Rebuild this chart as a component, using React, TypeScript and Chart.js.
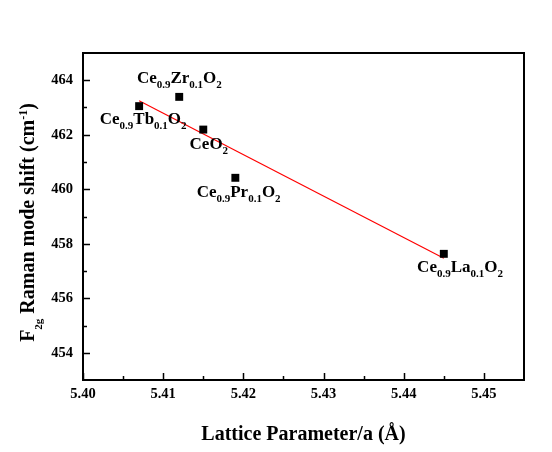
import React, { useEffect, useRef } from 'react';
import { Chart, registerables } from 'chart.js';

Chart.register(...registerables);

// ---- data ----
const latticeA = [5.407, 5.412, 5.415, 5.419, 5.445];
const ramanShift = [463.05, 463.39, 462.19, 460.42, 457.63];
const sampleLabels = [
  'Ce_{0.9}Tb_{0.1}O_{2}',
  'Ce_{0.9}Zr_{0.1}O_{2}',
  'CeO_{2}',
  'Ce_{0.9}Pr_{0.1}O_{2}',
  'Ce_{0.9}La_{0.1}O_{2}',
];
const fitX = [5.407, 5.445];
const fitY = [463.25, 457.47];

const xTicks = [5.4, 5.41, 5.42, 5.43, 5.44, 5.45];
const xTickLabels = ['5.40', '5.41', '5.42', '5.43', '5.44', '5.45'];
const xMinorTicks = [5.405, 5.415, 5.425, 5.435, 5.445];
const yTicks = [454, 456, 458, 460, 462, 464];
const yTickLabels = ['454', '456', '458', '460', '462', '464'];
const yMinorTicks = [455, 457, 459, 461, 463];

// ---- layout (pixel offsets of the point labels: text start / baseline) ----
const labelOffsets: [number, number][] = [
  [-39.4, 17.7],
  [-42.3, -14.3],
  [-13.7, 19.3],
  [-38.7, 19.6],
  [-26.7, 17.7],
];

const FONT = "'Liberation Serif', 'Times New Roman', serif";

function parseRich(s: string) {
  const parts: { t: string; sub: boolean }[] = [];
  const re = /([^_]+)|_\{([^}]*)\}/g;
  let m: RegExpExecArray | null;
  while ((m = re.exec(s))) {
    if (m[1] !== undefined) parts.push({ t: m[1], sub: false });
    else parts.push({ t: m[2], sub: true });
  }
  return parts;
}

function drawRich(ctx: CanvasRenderingContext2D, s: string, x: number, y: number, main: number, small: number, subOff: number) {
  let cx = x;
  for (const p of parseRich(s)) {
    ctx.font = `bold ${p.sub ? small : main}px ${FONT}`;
    ctx.fillText(p.t, cx, p.sub ? y + subOff : y);
    cx += ctx.measureText(p.t).width;
  }
}

const decorPlugin = {
  id: 'decor',
  afterDatasetsDraw(chart: any) {
    const { ctx, chartArea } = chart;
    const xs = chart.scales.x;
    const ys = chart.scales.y;
    ctx.save();
    ctx.strokeStyle = '#000';
    ctx.fillStyle = '#000';
    // frame
    ctx.lineWidth = 2;
    ctx.strokeRect(chartArea.left, chartArea.top, chartArea.right - chartArea.left, chartArea.bottom - chartArea.top);
    // inward ticks
    ctx.lineWidth = 1.5;
    ctx.beginPath();
    for (const v of xTicks) {
      const px = Math.round(xs.getPixelForValue(v)) + 0.5;
      ctx.moveTo(px, chartArea.bottom);
      ctx.lineTo(px, chartArea.bottom - 7);
    }
    for (const v of xMinorTicks) {
      const px = Math.round(xs.getPixelForValue(v)) + 0.5;
      ctx.moveTo(px, chartArea.bottom);
      ctx.lineTo(px, chartArea.bottom - 4);
    }
    for (const v of yTicks) {
      const py = Math.round(ys.getPixelForValue(v)) + 0.5;
      ctx.moveTo(chartArea.left, py);
      ctx.lineTo(chartArea.left + 7, py);
    }
    for (const v of yMinorTicks) {
      const py = Math.round(ys.getPixelForValue(v)) + 0.5;
      ctx.moveTo(chartArea.left, py);
      ctx.lineTo(chartArea.left + 4, py);
    }
    ctx.stroke();

    // point labels
    ctx.textBaseline = 'alphabetic';
    ctx.textAlign = 'left';
    const meta = chart.getDatasetMeta(0);
    meta.data.forEach((pt: any, i: number) => {
      const [dx, dy] = labelOffsets[i];
      drawRich(ctx, sampleLabels[i], pt.x + dx, pt.y + dy, 17, 11, 5);
    });

    // x title
    ctx.font = `bold 20px ${FONT}`;
    ctx.textAlign = 'center';
    ctx.fillText('Lattice Parameter/a (Å)', (chartArea.left + chartArea.right) / 2, 440);

    // y title (rotated, with sub/superscript)
    ctx.textAlign = 'left';
    const segs: { t: string; size: number; off: number }[] = [
      { t: 'F', size: 20, off: 0 },
      { t: '2g', size: 11, off: 8 },
      { t: ' Raman mode shift (cm', size: 20, off: 0 },
      { t: '-1', size: 12, off: -7 },
      { t: ')', size: 20, off: 0 },
    ];
    let total = 0;
    for (const s of segs) {
      ctx.font = `bold ${s.size}px ${FONT}`;
      total += ctx.measureText(s.t).width;
    }
    const cy = (chartArea.top + chartArea.bottom) / 2 + 6;
    ctx.translate(33.5, cy + total / 2);
    ctx.rotate(-Math.PI / 2);
    let cx = 0;
    for (const s of segs) {
      ctx.font = `bold ${s.size}px ${FONT}`;
      ctx.fillText(s.t, cx, s.off);
      cx += ctx.measureText(s.t).width;
    }
    ctx.restore();
  },
};

export default function App() {
  const ref = useRef<HTMLCanvasElement | null>(null);
  useEffect(() => {
    if (!ref.current) return;
    const chart = new Chart(ref.current, {
      type: 'scatter',
      data: {
        datasets: [
          {
            label: 'samples',
            data: latticeA.map((x, i) => ({ x, y: ramanShift[i] })),
            pointStyle: 'rect',
            pointRadius: 5.6,
            pointBackgroundColor: '#000',
            pointBorderWidth: 0,
            showLine: false,
            order: 1,
          },
          {
            label: 'fit',
            type: 'line',
            data: fitX.map((x, i) => ({ x, y: fitY[i] })),
            borderColor: '#ff0000',
            borderWidth: 1.2,
            pointRadius: 0,
            fill: false,
            order: 2,
          } as any,
        ],
      },
      options: {
        responsive: false,
        animation: false,
        devicePixelRatio: 1,
        layout: { padding: { left: 0, right: 28, top: 53, bottom: 0 } },
        plugins: { legend: { display: false }, tooltip: { enabled: false } },
        scales: {
          x: {
            type: 'linear',
            min: 5.4,
            max: 5.455,
            grid: { display: false, drawTicks: false },
            border: { display: false },
            afterBuildTicks: (s: any) => {
              s.ticks = xTicks.map((v) => ({ value: v }));
            },
            afterFit: (s: any) => {
              s.height = 72;
            },
            ticks: {
              padding: 6,
              color: '#000',
              font: { family: FONT, size: 14.5, weight: 'bold' },
              callback: (_v: any, i: number) => xTickLabels[i],
              maxRotation: 0,
              autoSkip: false,
            },
          },
          y: {
            type: 'linear',
            min: 453,
            max: 465,
            grid: { display: false, drawTicks: false },
            border: { display: false },
            afterBuildTicks: (s: any) => {
              s.ticks = yTicks.map((v) => ({ value: v }));
            },
            afterFit: (s: any) => {
              s.width = 83;
            },
            ticks: {
              padding: 10,
              color: '#000',
              font: { family: FONT, size: 14.5, weight: 'bold' },
              callback: (_v: any, i: number) => yTickLabels[i],
              autoSkip: false,
            },
          },
        },
      },
      plugins: [decorPlugin],
    });
    return () => chart.destroy();
  }, []);
  return (
    <div style={{ position: 'absolute', left: 0, top: 0, width: 552, height: 452, background: '#fff' }}>
      <canvas ref={ref} width={552} height={452} />
    </div>
  );
}
